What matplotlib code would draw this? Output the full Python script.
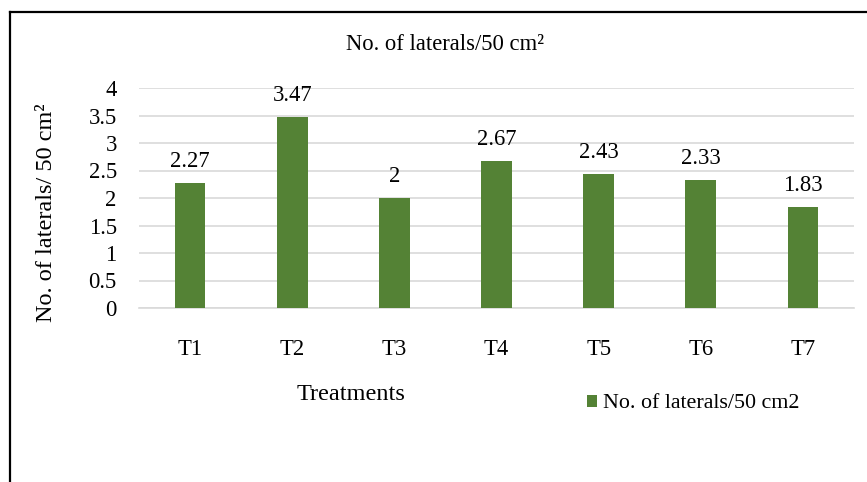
import matplotlib.pyplot as plt
from matplotlib.lines import Line2D

# datos
treatments = ['T1', 'T2', 'T3', 'T4', 'T5', 'T6', 'T7']
laterals = [2.27, 3.47, 2, 2.67, 2.43, 2.33, 1.83]
bar_labels = ['2.27', '3.47', '2', '2.67', '2.43', '2.33', '1.83']
y_ticks = [0, 0.5, 1, 1.5, 2, 2.5, 3, 3.5, 4]
y_ticklabels = ['0', '0.5', '1', '1.5', '2', '2.5', '3', '3.5', '4']

plt.rcParams['font.family'] = ['Liberation Serif', 'DejaVu Serif']

GREEN = '#548235'
GRID = '#d9d9d9'

fig = plt.figure(figsize=(8.67, 4.82), dpi=100)
ax = fig.add_axes([139 / 867, 1 - 308 / 482, 715 / 867, 220 / 482])

x = list(range(len(treatments)))
bars = ax.bar(x, laterals, width=0.30, color=GREEN, zorder=3)

for xi, v, lab in zip(x, laterals, bar_labels):
    ax.annotate(lab, (xi, v), xytext=(0, 8), textcoords='offset points',
                ha='center', va='bottom', fontsize=16.3, color='#000000')

ax.set_xlim(-0.5, len(treatments) - 0.5)
ax.set_ylim(0, 4)
ax.set_yticks(y_ticks)
ax.set_yticklabels(y_ticklabels)
ax.set_xticks(x)
ax.set_xticklabels(treatments)
ax.tick_params(axis='both', length=0, labelsize=16.3)
ax.tick_params(axis='x', pad=22)
ax.tick_params(axis='y', pad=16)
ax.yaxis.grid(True, color=GRID, linewidth=1.2, zorder=0)
for s in ['top', 'right', 'left']:
    ax.spines[s].set_visible(False)
ax.spines['bottom'].set_color(GRID)
ax.spines['bottom'].set_linewidth(1.2)

# titulo y ejes
fig.text(445 / 867, 1 - 45 / 482, 'No. of laterals/50 cm\u00b2',
         ha='center', va='center', fontsize=16.3)
fig.text(351 / 867, 1 - 395 / 482, 'Treatments', ha='center', va='center', fontsize=17.5)
fig.text(47 / 867, 1 - 213 / 482, 'No. of laterals/ 50 cm\u00b2',
         ha='center', va='center', rotation=90, fontsize=17.5)

# leyenda
fig.legend(handles=[bars], labels=['No. of laterals/50 cm2'], loc='center left',
           bbox_to_anchor=(576 / 867, 1 - 404 / 482), frameon=False, fontsize=15.8,
           handlelength=0.45, handleheight=0.45, handletextpad=0.3, borderpad=0)

# marco
fig.add_artist(Line2D([10 / 867, 10 / 867], [0, 1 - 12 / 482], transform=fig.transFigure,
                      color='black', linewidth=1.6))
fig.add_artist(Line2D([10 / 867, 1], [1 - 12 / 482, 1 - 12 / 482], transform=fig.transFigure,
                      color='black', linewidth=1.6))

plt.savefig('out.png', dpi=100)
